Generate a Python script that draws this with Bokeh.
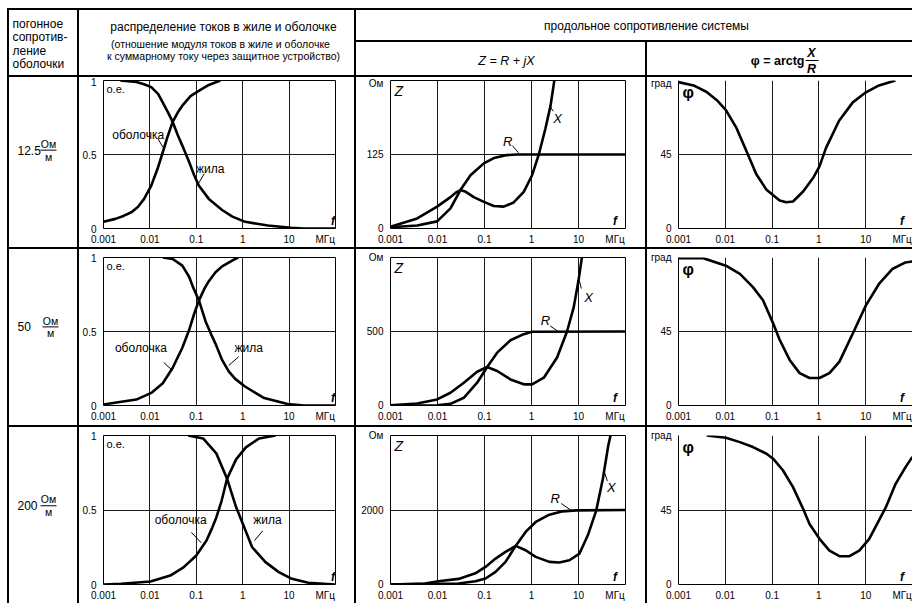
from bokeh.plotting import figure
from bokeh.layouts import row, column
from bokeh.models import Spacer, Range1d, FixedTicker, BasicTickFormatter
from bokeh.core.properties import value
from bokeh.embed import file_html
from bokeh.resources import INLINE

FONT = "Liberation Sans"

# ---------------- data ----------------
freq_ticks = [0.001, 0.01, 0.1, 1, 10]
freq_tick_labels = ["0.001", "0.01", "0.1", "1", "10"]
freq_gridlines = [0.01, 0.1, 1, 10]
freq_unit = "МГц"

sheath_resistance = ["12.5", "50", "200"]

current_ticks = [0, 0.5, 1]
current_tick_labels = ["0", "0.5", "1"]
z_ticks = [[0, 125, 250], [0, 500, 1000], [0, 2000, 4000]]
phi_ticks = [0, 45, 90]

# currents in core / sheath, relative units
cur1_sheath_f = [0.001, 0.0018, 0.0027, 0.004, 0.0055, 0.0075, 0.0107, 0.0145, 0.0183, 0.024, 0.031, 0.04, 0.05, 0.075, 0.113, 0.186, 0.33]
cur1_sheath = [0.045, 0.065, 0.085, 0.11, 0.145, 0.2, 0.29, 0.40, 0.50, 0.62, 0.72, 0.785, 0.83, 0.895, 0.93, 0.97, 1.0]
cur1_core_f = [0.0023, 0.0051, 0.0075, 0.0107, 0.015, 0.019, 0.025, 0.031, 0.04, 0.05, 0.07, 0.09, 0.113, 0.186, 0.36, 0.6, 1.13, 3.5, 11, 21, 100]
cur1_core = [1.0, 0.99, 0.975, 0.955, 0.91, 0.85, 0.78, 0.72, 0.63, 0.56, 0.45, 0.36, 0.29, 0.2, 0.125, 0.08, 0.045, 0.02, 0.005, 0.0, 0.0]

cur2_sheath_f = [0.001, 0.0019, 0.0051, 0.0107, 0.019, 0.031, 0.05, 0.07, 0.09, 0.114, 0.15, 0.186, 0.26, 0.36, 0.69, 0.8]
cur2_sheath = [0.007, 0.02, 0.04, 0.085, 0.15, 0.255, 0.39, 0.51, 0.62, 0.71, 0.79, 0.84, 0.9, 0.94, 0.99, 1.0]
cur2_core_f = [0.019, 0.031, 0.05, 0.07, 0.085, 0.114, 0.158, 0.21, 0.257, 0.357, 0.5, 0.69, 1.1, 2.9, 9.3, 21, 100]
cur2_core = [1.0, 0.99, 0.945, 0.87, 0.8, 0.71, 0.57, 0.48, 0.42, 0.31, 0.23, 0.18, 0.13, 0.05, 0.01, 0.0, 0.0]

cur3_sheath_f = [0.001, 0.0024, 0.0103, 0.0275, 0.053, 0.1, 0.166, 0.22, 0.27, 0.35, 0.46, 0.72, 1.17, 2.25, 5.1]
cur3_sheath = [0.0, 0.005, 0.02, 0.06, 0.115, 0.195, 0.295, 0.38, 0.45, 0.56, 0.71, 0.84, 0.92, 0.98, 1.0]
cur3_core_f = [0.067, 0.14, 0.27, 0.46, 0.72, 1.0, 1.6, 3.1, 6.0, 11.5, 26, 97]
cur3_core = [1.0, 0.98, 0.88, 0.71, 0.52, 0.41, 0.25, 0.15, 0.083, 0.038, 0.011, 0.0]

# longitudinal impedance Z = R + jX, Ohm
z1_x_f = [0.001, 0.0037, 0.0098, 0.0189, 0.024, 0.0307, 0.04, 0.0592, 0.0967, 0.158, 0.257, 0.418, 0.684, 1.03, 1.43, 1.98, 2.55, 3.06]
z1_x = [3, 17, 37, 53, 60, 65, 62, 53, 45, 38, 37, 44, 62, 90, 125, 169, 208, 250]
z1_r_f = [0.001, 0.0037, 0.0098, 0.0189, 0.0307, 0.0504, 0.0967, 0.158, 0.302, 0.49, 100]
z1_r = [2, 5, 12, 34, 65, 90, 110, 119, 124, 125, 125]

z2_x_f = [0.001, 0.0037, 0.0098, 0.0189, 0.0363, 0.0697, 0.114, 0.186, 0.357, 0.684, 1.03, 1.83, 3.5, 5.7, 7.9, 10.0, 11.8]
z2_x = [2, 14, 41, 86, 154, 228, 260, 233, 176, 143, 143, 188, 324, 500, 663, 844, 1000]
z2_r_f = [0.001, 0.0098, 0.0189, 0.0363, 0.0697, 0.114, 0.186, 0.357, 0.684, 1.03, 100]
z2_r = [0, 2, 11, 52, 154, 260, 357, 441, 482, 498, 500]

z3_x_f = [0.001, 0.0054, 0.0105, 0.028, 0.064, 0.105, 0.172, 0.28, 0.46, 0.75, 1.23, 2.4, 3.9, 6.4, 10.5, 15.8, 23.9, 33, 43, 48]
z3_x = [0, 27, 89, 150, 300, 473, 696, 875, 1036, 920, 741, 607, 589, 652, 830, 1321, 1991, 2839, 3732, 4000]
z3_r_f = [0.001, 0.028, 0.064, 0.105, 0.172, 0.28, 0.46, 0.75, 1.23, 2.4, 4.6, 8.9, 100]
z3_r = [0, 27, 89, 161, 339, 607, 1036, 1411, 1679, 1875, 1964, 1991, 2000]

# phase angle phi = arctg(X/R), degrees
phi1_f = [0.001, 0.0021, 0.004, 0.0066, 0.0103, 0.0174, 0.0284, 0.046, 0.076, 0.145, 0.2, 0.28, 0.46, 0.75, 1.03, 1.42, 2.7, 5.3, 10.1, 19.2, 43]
phi1 = [89, 87, 83, 78, 72, 61, 47, 33, 23.5, 17, 16, 16.4, 22.5, 30.7, 37.8, 49, 65.5, 76.7, 82.8, 87, 90]
phi2_f = [0.001, 0.0034, 0.0103, 0.0205, 0.039, 0.064, 0.105, 0.145, 0.237, 0.387, 0.63, 1.03, 1.68, 2.75, 5.3, 10.1, 19.2, 37, 71, 99]
phi2 = [89.6, 89.6, 85, 80, 72, 64, 50, 40, 27.7, 19.7, 16.7, 16.7, 19.7, 26.7, 43.8, 60.9, 73.9, 83, 87, 87.6]
phi3_f = [0.004, 0.0103, 0.0205, 0.039, 0.076, 0.105, 0.17, 0.28, 0.46, 0.63, 1.03, 1.68, 2.75, 4.5, 7.3, 11.9, 19.2, 27, 43.6, 71, 99]
phi3 = [90, 88.6, 86, 83, 79, 76, 69, 58.8, 45.7, 36.6, 27.6, 20.5, 17.1, 17.1, 20.5, 27.6, 38.7, 46.7, 60.8, 70.9, 77]

currents = [
    (cur1_sheath_f, cur1_sheath, cur1_core_f, cur1_core),
    (cur2_sheath_f, cur2_sheath, cur2_core_f, cur2_core),
    (cur3_sheath_f, cur3_sheath, cur3_core_f, cur3_core),
]
impedances = [
    (z1_r_f, z1_r, z1_x_f, z1_x),
    (z2_r_f, z2_r, z2_x_f, z2_x),
    (z3_r_f, z3_r, z3_x_f, z3_x),
]
phases = [(phi1_f, phi1), (phi2_f, phi2), (phi3_f, phi3)]

# ---------------- layout geometry (pixels) ----------------
LEFT_PAD = 7
TOP_PAD = 8
LW = 2                      # table line thickness
COLS = [68, 275, 289, 265]  # cell widths
HEAD_H = 65
HEAD_A = 30
HEAD_B = HEAD_H - HEAD_A - LW
ROW_H = [170, 176, 176]
FRAME_TOP = [3, 8, 8]
FRAME_H = [150, 148, 150]
TOTAL_W = sum(COLS) + LW * 4
CURVE_W = 2.6
TICK_FONT = "10px"


def hline(w):
    return Spacer(width=w, height=LW, margin=0, styles={"background-color": "black"})


def vline(h):
    return Spacer(width=LW, height=h, margin=0, styles={"background-color": "black"})


def cell(w, h):
    p = figure(width=w, height=h, x_range=Range1d(0, w), y_range=Range1d(h, 0),
               output_backend="svg", toolbar_location=None, min_border=0,
               x_axis_location=None, y_axis_location=None,
               outline_line_color=None, background_fill_color="white",
               border_fill_color="white")
    p.xgrid.visible = False
    p.ygrid.visible = False
    return p


def txt(p, x, y, s, size="12px", style="normal", align="left", baseline="middle", xo=0, yo=0):
    p.text(x=[x], y=[y], text=[s], text_font=value(FONT), text_font_size=size,
           text_font_style=style, text_align=align, text_baseline=baseline,
           x_offset=xo, y_offset=yo, text_color="black")


def plot(i, w, x_end, y_end, left, right, unit_at, yticks, ylabels, outline=True):
    h = ROW_H[i]
    p = figure(width=w, height=h, x_axis_type="log",
               x_range=Range1d(0.001, x_end), y_range=Range1d(0, y_end),
               output_backend="svg", toolbar_location=None,
               min_border_left=left, min_border_right=right,
               min_border_top=FRAME_TOP[i],
               min_border_bottom=h - FRAME_TOP[i] - FRAME_H[i],
               background_fill_color="white", border_fill_color="white",
               outline_line_color="black" if outline else None, outline_line_width=1)
    xa = p.xaxis[0]
    ya = p.yaxis[0]
    xa.ticker = FixedTicker(ticks=freq_ticks + [unit_at])
    xa.formatter = BasicTickFormatter()
    xa.major_label_overrides = dict(zip(freq_ticks + [unit_at], freq_tick_labels + [freq_unit]))
    ya.ticker = FixedTicker(ticks=yticks)
    ya.formatter = BasicTickFormatter()
    ya.major_label_overrides = dict(zip(yticks, ylabels))
    for ax in (xa, ya):
        ax.axis_line_color = None if outline else "black"
        ax.axis_line_width = 1
        ax.major_tick_line_color = None
        ax.minor_tick_line_color = None
        ax.major_tick_out = 0
        ax.major_tick_in = 0
        ax.minor_tick_out = 0
        ax.minor_tick_in = 0
        ax.major_label_text_font = FONT
        ax.major_label_text_font_size = TICK_FONT
        ax.major_label_text_color = "black"
    xa.major_label_standoff = 5
    ya.major_label_standoff = 7
    p.xgrid.ticker = FixedTicker(ticks=freq_gridlines)
    p.ygrid.ticker = FixedTicker(ticks=[yticks[1]] if outline else [yticks[1], yticks[2]])
    p.grid.grid_line_color = "#1a1a1a"
    p.grid.grid_line_width = 1
    return p


def current_plot(i):
    p = plot(i, COLS[1], 100, 1, 21, 19, 60, current_ticks, current_tick_labels)
    sf, sv, cf, cv = currents[i]
    p.line(sf, sv, line_color="black", line_width=CURVE_W)
    p.line(cf, cv, line_color="black", line_width=CURVE_W)
    txt(p, 0.001, 1, "о.е.", size="11px", baseline="top", xo=3, yo=2)
    txt(p, 88, 0, "f", size="12px", style="bold italic", align="center", baseline="bottom", yo=-1)
    ann = [
        [(0.0056, 0.63), (0.0147, 0.61, 0.019, 0.55), (0.2, 0.405), (0.148, 0.37, 0.105, 0.29)],
        [(0.0064, 0.39), (0.0198, 0.29, 0.0309, 0.236), (1.34, 0.39), (0.82, 0.33, 0.5, 0.27)],
        [(0.046, 0.43), (0.078, 0.35, 0.128, 0.28), (3.4, 0.43), (2.7, 0.36, 1.8, 0.295)],
    ][i]
    txt(p, ann[0][0], ann[0][1], "оболочка", size="12px", align="center")
    txt(p, ann[2][0], ann[2][1], "жила", size="12px", align="center")
    for seg in (ann[1], ann[3]):
        p.segment(x0=[seg[0]], y0=[seg[1]], x1=[seg[2]], y1=[seg[3]], line_color="black", line_width=1)
    return p


def z_plot(i):
    zt = z_ticks[i]
    p = plot(i, COLS[2], 100, zt[2], 34, 20, 60, zt, [str(zt[0]), str(zt[1]), "Ом"])
    rf, rv, xf, xv = impedances[i]
    p.line(rf, rv, line_color="black", line_width=CURVE_W)
    p.line(xf, xv, line_color="black", line_width=CURVE_W)
    txt(p, 0.001, zt[2], "Z", size="14px", style="italic", baseline="top", xo=4, yo=2)
    txt(p, 60, 0, "f", size="12px", style="bold italic", align="center", baseline="bottom", yo=-1)
    ann = [
        [(0.31, 147), (0.39, 140, 0.53, 128), (3.6, 186), (2.9, 198, 2.5, 206)],
        [(1.99, 571), (2.5, 537, 3.6, 503), (16.3, 728), (11.5, 790, 10.3, 850)],
        [(3.2, 2309), (4.3, 2174, 7.0, 1987), (50, 2604), (41, 2780, 36, 3000)],
    ][i]
    txt(p, ann[0][0], ann[0][1], "R", size="13px", style="italic", align="center")
    txt(p, ann[2][0], ann[2][1], "X", size="13px", style="italic", align="center")
    for seg in (ann[1], ann[3]):
        p.segment(x0=[seg[0]], y0=[seg[1]], x1=[seg[2]], y1=[seg[3]], line_color="black", line_width=1)
    return p


def phi_plot(i):
    p = plot(i, COLS[3], 100, 90, 31, 0, 60, phi_ticks, ["0", "45", "град"], outline=False)
    f, v = phases[i]
    p.line(f, v, line_color="black", line_width=CURVE_W)
    txt(p, 0.001, 90, "φ", size="16px", style="bold", baseline="top", xo=4, yo=3)
    txt(p, 60, 0, "f", size="12px", style="bold italic", align="center", baseline="bottom", yo=-1)
    return p


def label_cell(i):
    h = ROW_H[i]
    p = cell(COLS[0], h)
    c = [80, 82.5, 83][i]
    txt(p, 8, c, sheath_resistance[i], size="12px")
    fx = [39, 41, 39][i]
    txt(p, fx, c - 7.5, "Ом", size="10.5px", align="center")
    txt(p, fx, c + 7.5, "м", size="10.5px", align="center")
    p.segment(x0=[fx - 8], y0=[c], x1=[fx + 8], y1=[c], line_color="black", line_width=1)
    return p


# ---------------- header ----------------
h0 = cell(COLS[0], HEAD_H)
for k, s in enumerate(["погонное", "сопротив-", "ление", "оболочки"]):
    txt(h0, 3, 13 + 13.5 * k, s, size="12px")

h1 = cell(COLS[1], HEAD_H)
txt(h1, 144, 16, "распределение токов в жиле и оболочке", size="12px", align="center")
txt(h1, 141, 33, "(отношение модуля токов в жиле и оболочке", size="10.5px", align="center")
txt(h1, 144, 45, "к суммарному току через защитное устройство)", size="10.5px", align="center")

ha = cell(COLS[2] + LW + COLS[3], HEAD_A)
txt(ha, 290, 15, "продольное сопротивление системы", size="12px", align="center")

hb1 = cell(COLS[2], HEAD_B)
txt(hb1, 150, 18, "Z = R + jX", size="12.5px", style="italic", align="center")

hb2 = cell(COLS[3], HEAD_B)
txt(hb2, 157, 18, "φ = arctg", size="12.5px", style="bold", align="right")
txt(hb2, 164, 10, "X", size="12.5px", style="bold italic", align="center")
txt(hb2, 164, 26, "R", size="12.5px", style="bold italic", align="center")
hb2.segment(x0=[158], y0=[18], x1=[171], y1=[18], line_color="black", line_width=1.2)

header = row(
    vline(HEAD_H), h0, vline(HEAD_H), h1, vline(HEAD_H),
    column(ha, hline(COLS[2] + LW + COLS[3]), row(hb1, vline(HEAD_B), hb2)),
)

parts = [hline(TOTAL_W), header, hline(TOTAL_W)]
for i in range(3):
    h = ROW_H[i]
    parts.append(row(vline(h), label_cell(i), vline(h), current_plot(i), vline(h),
                     z_plot(i), vline(h), phi_plot(i)))
    if i < 2:
        parts.append(hline(TOTAL_W))

table = column(*parts)
layout = column(Spacer(width=TOTAL_W + LEFT_PAD, height=TOP_PAD, margin=0),
                row(Spacer(width=LEFT_PAD, height=10, margin=0), table))

open("out.html", "w").write(file_html(layout, INLINE))
